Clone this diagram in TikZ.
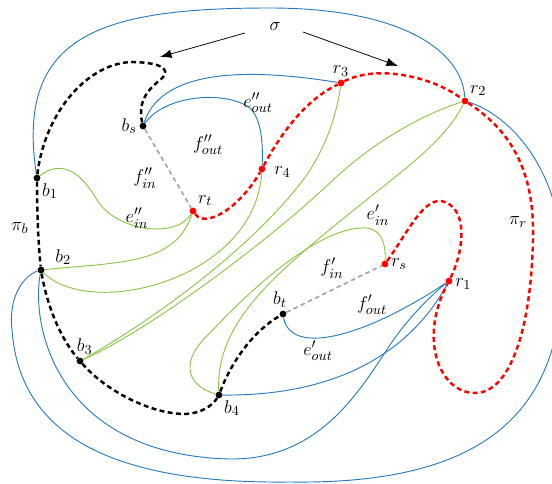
\documentclass[tikz,border=0pt]{standalone}
\usepackage{amsmath}
\usepackage{amssymb}
\usepackage{tikz}
\usetikzlibrary{arrows.meta,calc}
\pgfdeclarelayer{background}
\pgfsetlayers{background,main}
\definecolor{edgeblue}{RGB}{40,122,190}
\definecolor{edgegreen}{RGB}{140,196,70}

\begin{document}
\begin{tikzpicture}[x=0.65pt,y=-0.65pt]
\tikzset{every node/.style={font=\fontsize{13}{15}\selectfont}}
\tikzset{bdot/.style={circle,fill=black,inner sep=0pt,minimum size=4.4pt}}
\tikzset{rdot/.style={circle,fill=red,inner sep=0pt,minimum size=4.4pt}}
\tikzset{lbl/.style={inner sep=1.5pt}}
\tikzset{outedge/.style={draw=edgeblue,line width=0.6pt}}
\tikzset{inedge/.style={draw=edgegreen,line width=0.6pt}}
\tikzset{bpath/.style={draw=black,line width=1.6pt,dash pattern=on 3.2pt off 2.2pt}}
\tikzset{rpath/.style={draw=red,line width=1.6pt,dash pattern=on 3.2pt off 2.2pt}}
\tikzset{link/.style={draw=black!35,line width=1.1pt,dash pattern=on 3pt off 2.2pt}}
\tikzset{sigarrow/.style={draw=black,line width=0.5pt,-{Latex[length=7.5pt,width=5.5pt]}}}
\useasboundingbox (0,0) rectangle (552,484);

% vertices of pi_b
\node[bdot,label={[lbl]left:$b_s$}] (bs) at (143,126) {};
\node[bdot,label={[lbl]below right:$b_1$}] (b1) at (37,178) {};
\node[bdot,label={[lbl,xshift=6pt]above right:$b_2$}] (b2) at (41,270) {};
\node[bdot,label={[lbl,xshift=3pt]above:$b_3$}] (b3) at (80,361) {};
\node[bdot,label={[lbl]below right:$b_4$}] (b4) at (219,395) {};
\node[bdot,label={[lbl,xshift=-2pt]above:$b_t$}] (bt) at (283,314) {};
% vertices of pi_r
\node[rdot,label={[lbl]above right:$r_t$}] (rt) at (193,211) {};
\node[rdot,label={[lbl,xshift=4pt,yshift=-2pt]right:$r_4$}] (r4) at (262,169) {};
\node[rdot,label={[lbl]above:$r_3$}] (r3) at (341,83) {};
\node[rdot,label={[lbl]above right:$r_2$}] (r2) at (465,101) {};
\node[rdot,label={[lbl]right:$r_s$}] (rs) at (385,264) {};
\node[rdot,label={[lbl,yshift=-2pt]right:$r_1$}] (r1) at (449,281) {};

% faces, edges and paths
\node (sig) at (275,27) {$\sigma$};
\node (pib) at (20,228) {$\pi_b$};
\node (pir) at (518,222) {$\pi_r$};
\node (fout2) at (208,145) {$f''_{out}$};
\node (fin2) at (145,178) {$f''_{in}$};
\node (eout2) at (258,103) {$e''_{out}$};
\node (ein2) at (137,218) {$e''_{in}$};
\node (ein1) at (378,215) {$e'_{in}$};
\node (fin1) at (332,268) {$f'_{in}$};
\node (fout1) at (372,305) {$f'_{out}$};
\node (eout1) at (318,351) {$e'_{out}$};

\coordinate (sigl) at (245,33);
\coordinate (tipl) at (160,57);
\coordinate (sigr) at (303,32);
\coordinate (tipr) at (398,66);
\draw[sigarrow] (sigl) -- (tipl);
\draw[sigarrow] (sigr) -- (tipr);

\begin{pgfonlayer}{background}
\clip (0,0) rectangle (552,484);
% blue edges
\draw[outedge] (b1) .. controls (15,35) and (100,8) .. (270,8)
  .. controls (400,8) and (462,50) .. (r2);
\draw[outedge] (r2) .. controls (510,115) and (562,170) .. (563,265)
  .. controls (563,400) and (500,485) .. (290,482)
  .. controls (120,484) and (20,440) .. (12,330)
  .. controls (8,295) and (25,275) .. (b2);
\draw[outedge] (b2) .. controls (30,330) and (60,455) .. (230,459)
  .. controls (320,460) and (360,390) .. (390,345)
  .. controls (410,315) and (435,292) .. (r1);
\draw[outedge] (b4) .. controls (310,396) and (400,370) .. (r1);
\draw[outedge] (bt) .. controls (290,355) and (360,340) .. (r1);
\draw[outedge] (bs) .. controls (160,75) and (230,65) .. (r3);
\draw[outedge] (bs) .. controls (165,95) and (225,90) .. (250,108)
  .. controls (262,120) and (263,145) .. (r4);
% green edges
\draw[inedge] (b1) .. controls (60,160) and (80,170) .. (97,200)
  .. controls (115,230) and (175,240) .. (rt);
\draw[inedge] (b2) .. controls (120,262) and (175,265) .. (rt);
\draw[inedge] (b2) .. controls (90,320) and (255,280) .. (r4);
\draw[inedge] (b3) .. controls (150,322) and (250,250) .. (303,180)
  .. controls (322,155) and (336,120) .. (r3);
\draw[inedge] (b3) .. controls (150,330) and (270,240) .. (333,180)
  .. controls (370,145) and (420,115) .. (r2);
\draw[inedge] (b4) .. controls (215,320) and (280,270) .. (360,205)
  .. controls (410,165) and (445,140) .. (r2);
\draw[inedge] (b4) .. controls (185,385) and (180,360) .. (210,333)
  .. controls (250,290) and (320,225) .. (367,228)
  .. controls (382,230) and (386,245) .. (rs);
% the two paths
\draw[bpath] (bs) .. controls (137,100) and (150,88) .. (160,80)
  .. controls (170,72) and (168,63) .. (133,62)
  .. controls (90,62) and (45,110) .. (b1)
  .. controls (37,210) and (38,240) .. (b2)
  .. controls (48,310) and (62,340) .. (b3)
  .. controls (105,390) and (150,414) .. (185,414)
  .. controls (205,413) and (214,403) .. (b4)
  .. controls (232,360) and (255,330) .. (bt);
\draw[rpath] (rt) .. controls (205,228) and (238,210) .. (r4)
  .. controls (280,135) and (305,100) .. (r3)
  .. controls (375,65) and (430,75) .. (r2)
  .. controls (510,130) and (535,170) .. (533,240)
  .. controls (531,330) and (510,393) .. (475,393)
  .. controls (440,393) and (418,340) .. (r1)
  .. controls (462,255) and (470,212) .. (445,202)
  .. controls (425,194) and (408,232) .. (rs);
\draw[link] (bs) -- (rt);
\draw[link] (bt) -- (rs);
\end{pgfonlayer}
\end{tikzpicture}
\end{document}
